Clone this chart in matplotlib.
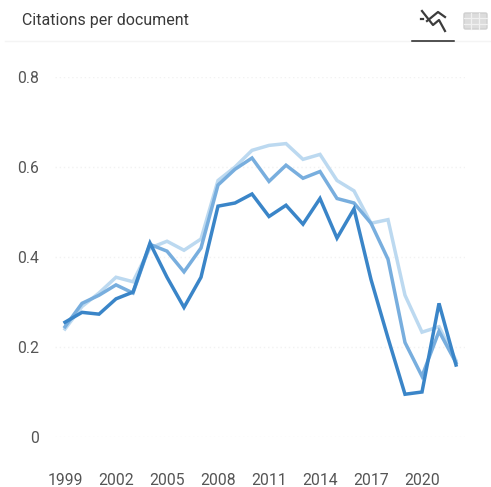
import matplotlib
matplotlib.use("Agg")
import matplotlib.pyplot as plt
from matplotlib.patches import FancyBboxPatch

plt.rcParams["font.family"] = ["Roboto", "DejaVu Sans"]

W, H = 491, 487

years = list(range(1999, 2023))
x_ticks = [1999, 2002, 2005, 2008, 2011, 2014, 2017, 2020]
y_ticks = [0, 0.2, 0.4, 0.6, 0.8]
y_labels = ["0", "0.2", "0.4", "0.6", "0.8"]

light = [0.240, 0.290, 0.320, 0.355, 0.345, 0.420, 0.435, 0.415, 0.440, 0.570, 0.600, 0.637,
         0.648, 0.652, 0.617, 0.628, 0.570, 0.547, 0.475, 0.483, 0.315, 0.233, 0.245, 0.170]
mid = [0.245, 0.297, 0.315, 0.338, 0.320, 0.428, 0.413, 0.367, 0.420, 0.560, 0.595, 0.620,
       0.568, 0.604, 0.575, 0.590, 0.530, 0.520, 0.475, 0.395, 0.210, 0.135, 0.235, 0.165]
dark = [0.255, 0.277, 0.273, 0.307, 0.322, 0.431, 0.355, 0.288, 0.355, 0.513, 0.520, 0.540,
        0.490, 0.515, 0.473, 0.530, 0.442, 0.507, 0.350, 0.220, 0.095, 0.100, 0.297, 0.160]


def px(x, y):
    return x / W, 1 - y / H


fig = plt.figure(figsize=(W / 100, H / 100), dpi=100, facecolor="white")

# plot area: gridlines run 55..465 px, y=0 at 437 px and y=0.8 at 77 px
ax = fig.add_axes([55 / W, 1 - 437 / H, 410 / W, 360 / H])
ax.set_xlim(1999 - 10 / 17, 1999 + 400 / 17)
ax.set_ylim(0, 0.8)
ax.patch.set_alpha(0)
for s in ax.spines.values():
    s.set_visible(False)

ax.set_yticks(y_ticks)
ax.set_yticklabels(y_labels)
ax.set_xticks(x_ticks)
ax.tick_params(axis="both", length=0, labelsize=11.3, labelcolor="#555555")
ax.tick_params(axis="y", pad=11.5)
ax.tick_params(axis="x", pad=26)
ax.grid(axis="y", color="#f2f2f2", lw=1, ls=(0, (1, 2)))
ax.set_axisbelow(True)

ax.plot(years, light, color="#bcd9f0", lw=2.5, clip_on=False, solid_joinstyle="miter")
ax.plot(years, mid, color="#78aede", lw=2.5, clip_on=False, solid_joinstyle="miter")
ax.plot(years, dark, color="#3a85c8", lw=2.5, clip_on=False, solid_joinstyle="miter")

fig.text(*px(22, 20.5), "Citations per document", fontsize=11.5, color="#3a3a3a", va="center", ha="left")

# header rule and active tab underline
fig.add_artist(plt.Line2D([5 / W, 1], [px(0, 41)[1]] * 2, color="#f4f4f4", lw=1))
fig.add_artist(plt.Line2D([412 / W, 454 / W], [px(0, 41)[1]] * 2, color="#222222", lw=1.1))

# line chart icon
icon_a = [(422, 11), (433, 25), (439, 20), (445, 31)]
icon_b = [(427, 21), (438, 12), (445, 17)]
for line in (icon_a, icon_b):
    xs, ys = zip(*[px(*p) for p in line])
    fig.add_artist(plt.Line2D(xs, ys, color="#3c3c3c", lw=1.6))
xs, ys = zip(*[px(*p) for p in [(421, 19), (423, 19)]])
fig.add_artist(plt.Line2D(xs, ys, color="#3c3c3c", lw=1.6))

# table icon
x0, y0 = px(464, 13)
x1, y1 = px(487, 29)
fig.add_artist(FancyBboxPatch((x0, y1), x1 - x0, y0 - y1, boxstyle="round,pad=0,rounding_size=0.003",
                              transform=fig.transFigure, fc="#dcdcdc", ec="#cfcfcf", lw=1))
for gx in (471, 479):
    fig.add_artist(plt.Line2D([gx / W] * 2, [y0, y1], color="#f0f0f0", lw=0.9))
for gy in (18, 24):
    yy = px(0, gy)[1]
    fig.add_artist(plt.Line2D([x0, x1], [yy, yy], color="#f0f0f0", lw=0.9))

fig.savefig("out.png", dpi=100)
